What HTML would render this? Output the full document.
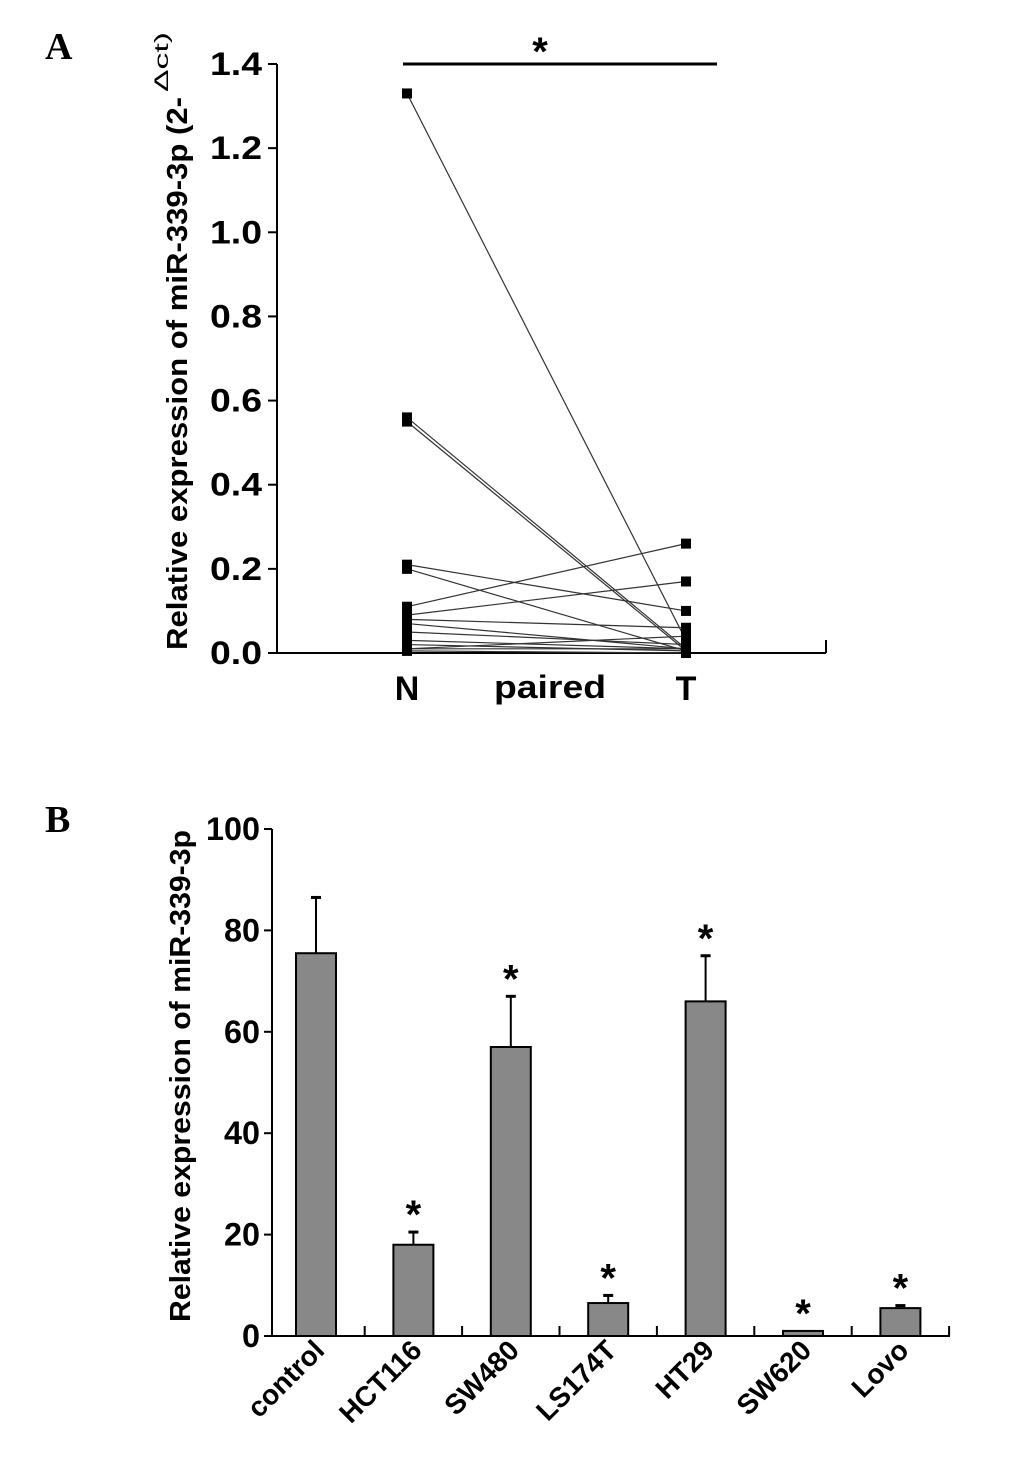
<!DOCTYPE html>
<html><head><meta charset="utf-8"><style>
body{margin:0;background:#fff}
svg{display:block;font-family:"Liberation Sans",Arial,sans-serif}
</style></head><body>
<svg width="1033" height="1461" viewBox="0 0 1033 1461">
<text x="45" y="59" font-family="Liberation Serif" font-weight="bold" font-size="38">A</text>
<text x="45" y="832" font-family="Liberation Serif" font-weight="bold" font-size="38">B</text>
<g id="chartA"></g>
<g id="chartB"></g>
</svg>
<script>
const pairN=[1.33,0.56,0.55,0.21,0.20,0.11,0.09,0.08,0.07,0.05,0.03,0.02,0.01,0.005,0.01];
const pairT=[0.03,0.01,0.005,0.10,0.005,0.26,0.17,0.06,0.01,0.02,0.01,0.005,0.01,0.0,0.04];
const ticksA=[0,0.2,0.4,0.6,0.8,1.0,1.2,1.4];
const cats=["control","HCT116","SW480","LS174T","HT29","SW620","Lovo"];
const vals=[75.5,18,57,6.5,66,1,5.5];
const errs=[11,2.5,10,1.5,9,0,0.5];
const sig=[false,true,true,true,true,true,true];
const ticksB=[0,20,40,60,80,100];
const NS="http://www.w3.org/2000/svg";
function mk(p,t,a,txt){const e=document.createElementNS(NS,t);for(const k in a)e.setAttribute(k,a[k]);if(txt!==undefined)e.textContent=txt;p.appendChild(e);return e;}
// Panel A
const A=document.getElementById('chartA');
const yA=v=>653-v/1.4*589;
const xN=407,xT=686;
let e=mk(A,'line',{x1:277,y1:64,x2:277,y2:653,stroke:'#000','stroke-width':2});

e=mk(A,'line',{x1:277,y1:653,x2:826,y2:653,stroke:'#000','stroke-width':2});

mk(A,'line',{x1:826,y1:653,x2:826,y2:640,stroke:'#000','stroke-width':2});
ticksA.forEach(t=>{const y=yA(t);mk(A,'line',{x1:268,y1:y,x2:277,y2:y,stroke:'#000','stroke-width':2});
e=mk(A,'text',{x:262,y:y+11,'text-anchor':'end','font-size':32,'font-weight':'bold',textLength:52,lengthAdjust:'spacingAndGlyphs'},t.toFixed(1));
});
e=mk(A,'text',{transform:'translate(187,650) rotate(-90)','font-size':29,'font-weight':'bold',textLength:553,lengthAdjust:'spacingAndGlyphs'},'Relative expression of miR-339-3p (2-');

mk(A,'text',{transform:'translate(168,92) rotate(-90)','font-size':19,textLength:60,lengthAdjust:'spacingAndGlyphs'},'Δct)');
pairN.forEach((n,i)=>{const t=pairT[i];
e=mk(A,'line',{x1:xN,y1:yA(n),x2:xT,y2:yA(t),stroke:'#333','stroke-width':1.2});

mk(A,'rect',{x:xN-5,y:yA(n)-5,width:10,height:10,fill:'#000'});
mk(A,'rect',{x:xT-5,y:yA(t)-5,width:10,height:10,fill:'#000'});});
e=mk(A,'text',{x:xN,y:700,'text-anchor':'middle','font-size':34,'font-weight':'bold'},'N');

e=mk(A,'text',{x:xT,y:700,'text-anchor':'middle','font-size':34,'font-weight':'bold'},'T');

e=mk(A,'text',{x:550,y:698,'text-anchor':'middle','font-size':32,'font-weight':'bold',textLength:112,lengthAdjust:'spacingAndGlyphs'},'paired');

e=mk(A,'line',{x1:403,y1:64,x2:717,y2:64,stroke:'#000','stroke-width':3});

mk(A,'text',{x:540,y:65,'text-anchor':'middle','font-size':40,'font-weight':'bold'},'*');
// Panel B
const B=document.getElementById('chartB');
const yB=v=>1336-v/100*507;
const xB=i=>316+i*97.4;
e=mk(B,'line',{x1:272,y1:829,x2:272,y2:1336,stroke:'#000','stroke-width':2});

e=mk(B,'line',{x1:272,y1:1336,x2:950,y2:1336,stroke:'#000','stroke-width':2});

ticksB.forEach(t=>{const y=yB(t);mk(B,'line',{x1:264,y1:y,x2:272,y2:y,stroke:'#000','stroke-width':2});
e=mk(B,'text',{x:260,y:y+11,'text-anchor':'end','font-size':32,'font-weight':'bold',textLength:String(t).length*18,lengthAdjust:'spacingAndGlyphs'},String(t));
});
for(let i=1;i<=cats.length;i++){const x=xB(i)-48.7;mk(B,'line',{x1:x,y1:1336,x2:x,y2:1326,stroke:'#000','stroke-width':2});}
e=mk(B,'text',{transform:'translate(190,1322) rotate(-90)','font-size':29,'font-weight':'bold',textLength:492,lengthAdjust:'spacingAndGlyphs'},'Relative expression of miR-339-3p');

cats.forEach((c,i)=>{const x=xB(i),v=vals[i],er=errs[i];
if(er>0){mk(B,'line',{x1:x,y1:yB(v),x2:x,y2:yB(v+er),stroke:'#000','stroke-width':2});
mk(B,'line',{x1:x-5,y1:yB(v+er),x2:x+5,y2:yB(v+er),stroke:'#000','stroke-width':3});}
e=mk(B,'rect',{x:x-20,y:yB(v),width:40,height:1336-yB(v),fill:'#888',stroke:'#000','stroke-width':2});

if(sig[i]){e=mk(B,'text',{x:x,y:yB(v+er)-4,'text-anchor':'middle','font-size':40,'font-weight':'bold'},'*');
}
e=mk(B,'text',{transform:`translate(${x+10},${1352}) rotate(-45)`,'text-anchor':'end','font-size':28,'font-weight':'bold'},c);
});
</script>
</body></html>
